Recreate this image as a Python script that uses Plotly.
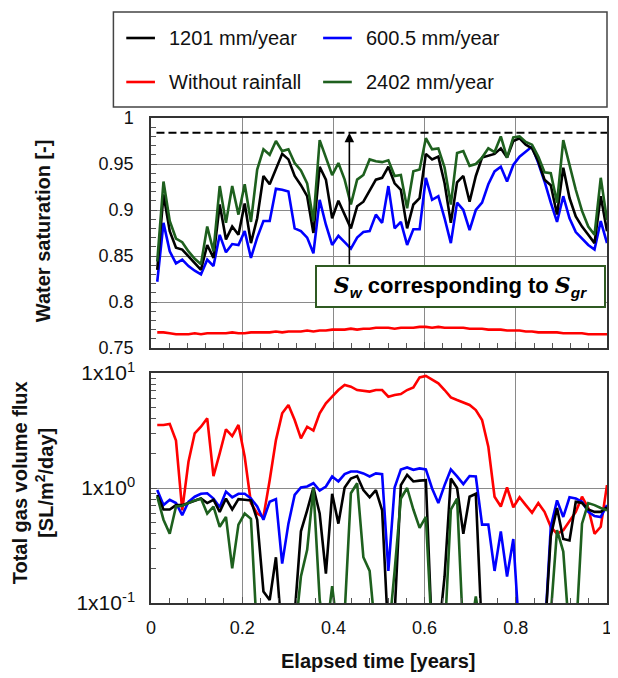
import plotly.graph_objects as go

# ---------------- data ----------------
elapsed_days = list(range(5, 366, 5))  # 73 output times
time_years = [d / 365 for d in elapsed_days]

series_names = ["1201 mm/year", "600.5 mm/year", "Without rainfall", "2402 mm/year"]

sw_1201 = [0.835, 0.917, 0.877, 0.859, 0.857, 0.850, 0.842, 0.835, 0.862, 0.848,
           0.906, 0.868, 0.882, 0.873, 0.907, 0.864, 0.891, 0.937, 0.928, 0.944,
           0.961, 0.955, 0.937, 0.927, 0.915, 0.875, 0.947, 0.933, 0.891, 0.910,
           0.895, 0.880, 0.904, 0.909, 0.921, 0.933, 0.935, 0.947, 0.929, 0.922,
           0.880, 0.906, 0.913, 0.961, 0.955, 0.958, 0.929, 0.886, 0.930, 0.937,
           0.909, 0.937, 0.957, 0.959, 0.961, 0.967, 0.957, 0.975, 0.978, 0.971,
           0.967, 0.953, 0.933, 0.927, 0.895, 0.946, 0.913, 0.893, 0.882, 0.873,
           0.864, 0.915, 0.877]
sw_600 = [0.822, 0.886, 0.855, 0.842, 0.846, 0.839, 0.834, 0.830, 0.846, 0.839,
          0.873, 0.854, 0.863, 0.862, 0.877, 0.848, 0.870, 0.888, 0.888, 0.923,
          0.922, 0.920, 0.880, 0.877, 0.870, 0.853, 0.911, 0.884, 0.862, 0.872,
          0.865, 0.858, 0.870, 0.876, 0.877, 0.895, 0.886, 0.926, 0.880, 0.887,
          0.862, 0.879, 0.879, 0.935, 0.911, 0.915, 0.891, 0.864, 0.908, 0.900,
          0.878, 0.900, 0.908, 0.928, 0.942, 0.947, 0.931, 0.949, 0.958, 0.964,
          0.969, 0.951, 0.931, 0.908, 0.887, 0.915, 0.891, 0.876, 0.869, 0.862,
          0.857, 0.888, 0.864]
sw_norain = [0.767, 0.767, 0.766, 0.765, 0.765, 0.765, 0.766, 0.765, 0.766, 0.766,
             0.766, 0.766, 0.767, 0.766, 0.766, 0.767, 0.767, 0.767, 0.767, 0.768,
             0.767, 0.768, 0.768, 0.768, 0.769, 0.768, 0.769, 0.769, 0.770, 0.770,
             0.770, 0.771, 0.770, 0.771, 0.771, 0.772, 0.772, 0.772, 0.771, 0.772,
             0.772, 0.772, 0.773, 0.773, 0.772, 0.773, 0.772, 0.772, 0.772, 0.772,
             0.771, 0.771, 0.771, 0.770, 0.770, 0.770, 0.769, 0.769, 0.769, 0.768,
             0.768, 0.767, 0.767, 0.767, 0.767, 0.766, 0.766, 0.766, 0.766, 0.765,
             0.765, 0.765, 0.765]
sw_2402 = [0.844, 0.931, 0.888, 0.869, 0.865, 0.855, 0.847, 0.841, 0.882, 0.855,
           0.926, 0.886, 0.926, 0.895, 0.928, 0.887, 0.944, 0.966, 0.960, 0.975,
           0.964, 0.966, 0.951, 0.943, 0.929, 0.888, 0.976, 0.957, 0.938, 0.951,
           0.933, 0.906, 0.933, 0.938, 0.955, 0.953, 0.952, 0.954, 0.937, 0.938,
           0.902, 0.942, 0.944, 0.978, 0.966, 0.967, 0.946, 0.906, 0.962, 0.964,
           0.948, 0.950, 0.957, 0.967, 0.963, 0.980, 0.957, 0.979, 0.980, 0.974,
           0.971, 0.958, 0.941, 0.940, 0.908, 0.976, 0.949, 0.922, 0.899, 0.882,
           0.873, 0.935, 0.889]

sw_residual_gas = 0.984  # Sw corresponding to Sgr

flux_1201 = [0.87, 0.65, 0.65, 0.71, 0.71, 0.74, 0.78, 0.81, 0.74, 0.79,
             0.62, 0.81, 0.65, 0.80, 0.79, 0.78, 0.53, 0.126, 0.106, 0.25,
             0.05, 0.05, 0.08, 0.42, 0.64, 1.01, 0.60, 0.18, 0.89, 0.49,
             1.01, 1.21, 1.27, 0.96, 0.83, 0.96, 0.64, 0.05, 0.08, 1.06,
             1.30, 1.14, 1.16, 1.17, 0.05, 0.05, 0.17, 1.21, 1.00, 0.40,
             0.84, 0.89, 0.05, 0.05, 0.05, 0.05, 0.05, 0.05, 0.05, 0.05,
             0.05, 0.05, 0.05, 0.38, 0.67, 0.36, 0.35, 0.76, 0.74, 0.65,
             0.62, 0.62, 0.68]
flux_600 = [0.96, 0.71, 0.79, 0.74, 0.58, 0.76, 0.84, 0.89, 0.90, 0.81,
            0.68, 0.93, 0.83, 0.89, 0.89, 0.81, 0.69, 0.53, 0.76, 0.80,
            0.22, 0.49, 0.87, 1.01, 1.03, 1.10, 0.95, 1.03, 1.26, 1.14,
            1.32, 1.39, 1.39, 1.34, 1.26, 1.34, 1.32, 0.19, 1.01, 1.45,
            1.51, 1.44, 1.48, 1.45, 0.99, 0.74, 1.06, 1.45, 1.26, 1.08,
            1.27, 1.26, 0.48, 0.48, 0.19, 0.42, 0.17, 0.36, 0.05, 0.05,
            0.05, 0.05, 0.05, 0.46, 0.78, 0.56, 0.83, 0.81, 0.76, 0.62,
            0.57, 0.56, 0.71]
flux_norain = [3.53, 3.53, 3.61, 2.58, 0.64, 1.69, 2.99, 3.41, 4.04, 1.27,
               2.00, 3.24, 2.83, 3.53, 1.87, 0.74, 0.60, 0.56, 1.17, 2.61,
               4.46, 5.27, 3.90, 2.70, 3.41, 3.16, 4.46, 5.45, 6.22, 7.11,
               7.87, 7.60, 7.11, 6.97, 6.89, 7.11, 7.11, 6.22, 6.44, 6.56,
               7.11, 7.50, 9.16, 9.42, 8.69, 8.13, 7.11, 6.14, 5.82, 5.52,
               5.27, 4.76, 3.90, 2.29, 0.84, 0.69, 1.01, 0.68, 0.83, 0.71,
               0.61, 0.74, 0.62, 0.46, 0.40, 0.43, 0.51, 0.62, 0.84, 0.67,
               0.40, 0.46, 1.06]
flux_2402 = [0.84, 0.53, 0.40, 0.69, 0.70, 0.74, 0.78, 0.81, 0.60, 0.69,
             0.46, 0.56, 0.20, 0.48, 0.60, 0.54, 0.05, 0.05, 0.05, 0.05,
             0.05, 0.05, 0.05, 0.17, 0.29, 1.00, 0.107, 0.05, 0.14, 0.05,
             0.08, 0.90, 1.10, 0.25, 0.19, 0.05, 0.05, 0.05, 0.19, 0.81,
             1.00, 0.65, 0.45, 0.56, 0.05, 0.05, 0.05, 0.65, 0.81, 0.05,
             0.05, 0.114, 0.05, 0.05, 0.05, 0.05, 0.05, 0.05, 0.05, 0.05,
             0.05, 0.05, 0.05, 0.08, 0.43, 0.28, 0.05, 0.05, 0.49, 0.74,
             0.71, 0.67, 0.64]

x_ticks = [0, 0.2, 0.4, 0.6, 0.8, 1]
flux_tickvals = [0.1, 1, 10]
flux_ticktext = ["1x10<sup>-1</sup>", "1x10<sup>0</sup>", "1x10<sup>1</sup>"]

# ---------------- styling ----------------
colors = {"1201 mm/year": "#000000", "600.5 mm/year": "#0000ff",
          "Without rainfall": "#ff0000", "2402 mm/year": "#1e601e"}
FONT = "Liberation Sans, Arial, sans-serif"
OFF = 8                      # default page margin around the plot div
W, H = 618 - OFF, 678 - OFF
L, R, T, B = 151 - OFF, 6, 118 - OFF, 75
PW, PH = W - L - R, H - T - B


def px_x(px):
    """page pixel x -> paper coordinate"""
    return (px - OFF - L) / PW


def px_y(py):
    """page pixel y -> paper coordinate"""
    return (H - B - (py - OFF)) / PH


fig = go.Figure()

top = {"1201 mm/year": sw_1201, "600.5 mm/year": sw_600,
       "Without rainfall": sw_norain, "2402 mm/year": sw_2402}
bot = {"1201 mm/year": flux_1201, "600.5 mm/year": flux_600,
       "Without rainfall": flux_norain, "2402 mm/year": flux_2402}
order = ["Without rainfall", "600.5 mm/year", "1201 mm/year", "2402 mm/year"]
for name in order:
    fig.add_trace(go.Scatter(x=time_years, y=top[name], mode="lines", name=name,
                             line=dict(color=colors[name], width=2.6),
                             showlegend=False, xaxis="x", yaxis="y", hoverinfo="skip"))
for name in order:
    fig.add_trace(go.Scatter(x=time_years, y=bot[name], mode="lines", name=name,
                             line=dict(color=colors[name], width=2.6),
                             showlegend=False, xaxis="x2", yaxis="y2", hoverinfo="skip"))

split_top = px_y(348)
split_bot = px_y(373)

axis_common = dict(showline=True, linecolor="#333333", linewidth=1.5, mirror=True,
                   showgrid=True, gridcolor="#8a8a8a", gridwidth=1, zeroline=False,
                   ticks="inside", ticklen=6, tickcolor="#555555",
                   ticklabeloverflow="allow")
tickfont = dict(family=FONT, size=18, color="#111111")

fig.update_layout(
    width=W, height=H, autosize=False,
    margin=dict(l=L, r=R, t=T, b=B),
    paper_bgcolor="white", plot_bgcolor="white",
    font=dict(family=FONT, color="#111111"),
    xaxis=dict(domain=[0, 1], anchor="y", range=[0, 1], tickvals=x_ticks,
               showticklabels=False, tickfont=tickfont,
               minor=dict(dtick=0.04, ticks="inside", ticklen=5, tickcolor="#555555", showgrid=False),
               **axis_common),
    yaxis=dict(domain=[split_top, 1], anchor="x", range=[0.75, 1], dtick=0.05,
               ticklabelstandoff=12, tickfont=tickfont,
               minor=dict(dtick=0.01, ticks="inside", ticklen=5, tickcolor="#555555", showgrid=False),
               **axis_common),
    xaxis2=dict(domain=[0, 1], anchor="y2", range=[0, 1], tickvals=x_ticks,
                ticklabelstandoff=8, tickfont=tickfont,
                minor=dict(dtick=0.04, ticks="inside", ticklen=5, tickcolor="#555555", showgrid=False),
                **axis_common),
    yaxis2=dict(domain=[0, split_bot], anchor="x2", type="log", range=[-1, 1],
                tickvals=flux_tickvals, ticktext=flux_ticktext, ticklabelstandoff=10,
                tickfont=dict(family=FONT, size=21, color="#111111"),
                minor=dict(tickvals=[0.2, 0.3, 0.4, 0.5, 0.6, 0.7, 0.8, 0.9,
                                     2, 3, 4, 5, 6, 7, 8, 9],
                           ticks="inside", ticklen=5, tickcolor="#555555", showgrid=False),
                **axis_common),
)

shapes = []
annotations = []

# reference line for Sw at residual gas saturation
shapes.append(dict(type="line", xref="x", yref="y", x0=0.012, x1=1,
                   y0=sw_residual_gas, y1=sw_residual_gas,
                   line=dict(color="black", width=2, dash="8px,4px")))
# arrow
annotations.append(dict(xref="x", yref="y", axref="x", ayref="y",
                        x=0.435, y=sw_residual_gas, ax=0.435, ay=0.8395,
                        text="", showarrow=True, arrowhead=2, arrowsize=1.2,
                        arrowwidth=1.6, arrowcolor="black"))
# text box
annotations.append(dict(xref="x", yref="y", x=0.679, y=0.817,
                        xanchor="center", yanchor="middle", showarrow=False,
                        text="<b><i><span style=\"font-family:'DejaVu Serif'\">S</span><sub>w</sub></i>"
                             " corresponding to "
                             "<i><span style=\"font-family:'DejaVu Serif'\">S</span><sub>gr</sub></i></b>",
                        font=dict(family=FONT, size=22, color="black"),
                        bgcolor="white", bordercolor="#2f5a22", borderwidth=2,
                        borderpad=3, width=281, height=33))

# legend box
shapes.append(dict(type="rect", xref="paper", yref="paper",
                   x0=px_x(113), x1=px_x(612), y0=px_y(107), y1=px_y(12),
                   line=dict(color="#444444", width=1.5), fillcolor="white", layer="above"))
legend_order = ["1201 mm/year", "600.5 mm/year", "Without rainfall", "2402 mm/year"]
for k, name in enumerate(legend_order):
    col, row = k % 2, k // 2
    yy = 38 + 44 * row
    x0 = 126 + 199 * col
    shapes.append(dict(type="line", xref="paper", yref="paper",
                       x0=px_x(x0), x1=px_x(x0 + 29), y0=px_y(yy), y1=px_y(yy),
                       line=dict(color=colors[name], width=2.6), layer="above"))
    annotations.append(dict(xref="paper", yref="paper", x=px_x(x0 + 41), y=px_y(yy),
                            xanchor="left", yanchor="middle", showarrow=False,
                            text=name, font=dict(family=FONT, size=20, color="#111111")))

# axis titles
annotations.append(dict(xref="paper", yref="paper", x=px_x(42), y=px_y(231),
                        xanchor="center", yanchor="middle", showarrow=False, textangle=-90,
                        text="<b>Water saturation [-]</b>",
                        font=dict(family=FONT, size=20, color="#111111")))
annotations.append(dict(xref="paper", yref="paper", x=px_x(32), y=px_y(483),
                        xanchor="center", yanchor="middle", showarrow=False, textangle=-90,
                        text="<b>Total gas volume flux<br>[SL/m<sup>2</sup>/day]</b>",
                        font=dict(family=FONT, size=20, color="#111111")))
annotations.append(dict(xref="paper", yref="paper", x=px_x(381), y=px_y(661),
                        xanchor="center", yanchor="middle", showarrow=False,
                        text="<b>Elapsed time [years]</b>",
                        font=dict(family=FONT, size=20, color="#111111")))

fig.update_layout(shapes=shapes, annotations=annotations)
fig.write_html("out.html")
